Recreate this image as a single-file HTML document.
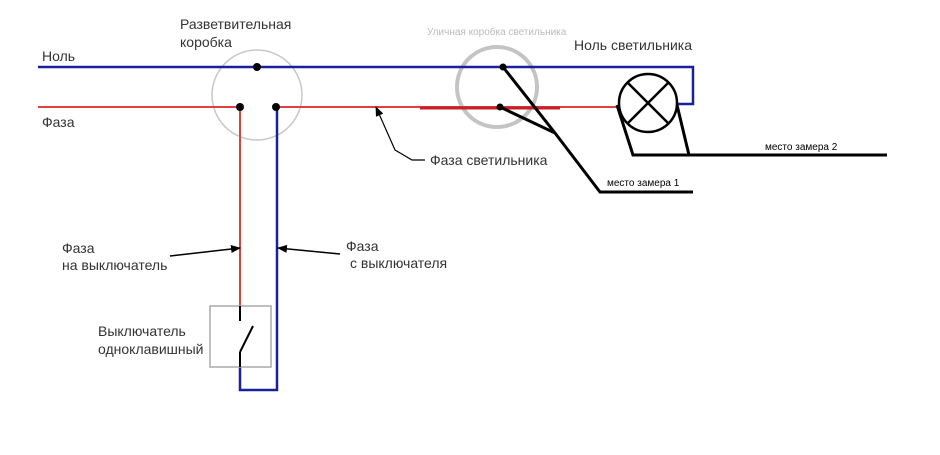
<!DOCTYPE html><html><head><meta charset="utf-8"><style>body{margin:0;background:#fff}text{font-family:"Liberation Sans",sans-serif;fill:#333}</style></head><body>
<svg width="940" height="450" xmlns="http://www.w3.org/2000/svg">
<defs><marker id="a" markerWidth="10" markerHeight="8" refX="9" refY="4" orient="auto" markerUnits="userSpaceOnUse"><path d="M0,0 L10,4 L0,8z" fill="#000"/></marker></defs>
<circle cx="257" cy="95" r="45" fill="none" stroke="#c8c8c8" stroke-width="1.5"/>
<circle cx="497" cy="87" r="40" fill="none" stroke="#c4c4c4" stroke-width="4"/>
<path d="M38,67 H693 V104 H677" fill="none" stroke="#1a1f9a" stroke-width="2.5"/>
<path d="M38,107 H240 V306" fill="none" stroke="#e04040" stroke-width="2"/>
<path d="M276,107 H617" fill="none" stroke="#e04040" stroke-width="2"/>
<path d="M420,108 H560" stroke="#c8202a" stroke-width="3"/>
<path d="M240,367 V390 H277 V107" fill="none" stroke="#1a1f9a" stroke-width="2.5"/>
<rect x="210" y="306" width="61" height="61" fill="none" stroke="#aaa" stroke-width="1.5"/>
<path d="M240,306 V321 M240,352 L253,326 M240,352 V367" stroke="#000" stroke-width="2" fill="none"/>
<circle cx="257" cy="67" r="4"/><circle cx="240" cy="107" r="4"/><circle cx="276" cy="107" r="4"/>
<circle cx="503" cy="67" r="3.5"/><circle cx="500" cy="107" r="3.5"/>
<path d="M503,67 L555,133 L600,192 H693 M500,107 L555,133" stroke="#000" stroke-width="3" fill="none"/>
<circle cx="648" cy="103" r="29" fill="#fff" stroke="#000" stroke-width="2.5"/>
<path d="M627,82 L669,124 M669,82 L627,124" stroke="#000" stroke-width="2.5"/>
<path d="M617,105 L633,155 H887 M677,105 L689,155" stroke="#000" stroke-width="3" fill="none"/>
<path d="M170,256 L240,248" stroke="#000" stroke-width="1.5" marker-end="url(#a)"/>
<path d="M340,254 L278,248" stroke="#000" stroke-width="1.5" marker-end="url(#a)"/>
<path d="M425,160 L412,160 L395,150 L376,107" stroke="#000" stroke-width="1.2" fill="none" marker-end="url(#a)"/>
<text x="42" y="61" font-size="14">Ноль</text>
<text x="42" y="127" font-size="14">Фаза</text>
<text x="180" y="29" font-size="14">Разветвительная</text>
<text x="180" y="47" font-size="14">коробка</text>
<text x="427" y="35" font-size="10" style="fill:#bbb">Уличная коробка светильника</text>
<text x="574" y="50" font-size="14">Ноль светильника</text>
<text x="430" y="165" font-size="14">Фаза светильника</text>
<text x="607" y="186" font-size="10" style="fill:#000">место замера 1</text>
<text x="765" y="150" font-size="10" style="fill:#000">место замера 2</text>
<text x="62" y="253" font-size="14">Фаза</text>
<text x="62" y="270" font-size="14">на выключатель</text>
<text x="346" y="251" font-size="14">Фаза</text>
<text x="350" y="268" font-size="14">с выключателя</text>
<text x="98" y="336" font-size="14">Выключатель</text>
<text x="98" y="354" font-size="14">одноклавишный</text>
</svg></body></html>
